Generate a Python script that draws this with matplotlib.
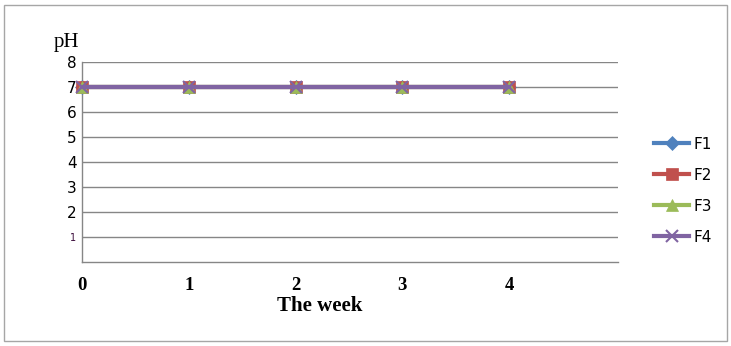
import matplotlib.pyplot as plt
from matplotlib.patches import Rectangle

weeks = [0, 1, 2, 3, 4]
series_names = ["F1", "F2", "F3", "F4"]
ph_values = {
    "F1": [7, 7, 7, 7, 7],
    "F2": [7, 7, 7, 7, 7],
    "F3": [7, 7, 7, 7, 7],
    "F4": [7, 7, 7, 7, 7],
}
y_ticks = [1, 2, 3, 4, 5, 6, 7, 8]
x_tick_labels = ["0", "1", "2", "3", "4"]

colors = {"F1": "#4F81BD", "F2": "#C0504D", "F3": "#9BBB59", "F4": "#8064A2"}
markers = {"F1": "D", "F2": "s", "F3": "^", "F4": "x"}
msize = {"F1": 7, "F2": 9, "F3": 9, "F4": 8}

fig = plt.figure(figsize=(7.31, 3.46), dpi=100)
ax = fig.add_axes([0.1122, 0.2428, 0.7332, 0.578])

for name in series_names:
    ax.plot(weeks, ph_values[name], color=colors[name], lw=3,
            marker=markers[name], markersize=msize[name],
            markeredgewidth=1.5 if name == "F4" else 0.5,
            markeredgecolor=colors[name], label=name, clip_on=False, zorder=3)

ax.set_xlim(0, 5.02)
ax.set_ylim(0, 8)
ax.set_yticks(y_ticks)
ax.set_yticklabels([str(v) for v in y_ticks])
ax.yaxis.grid(True, color="#868686", lw=1)
ax.set_axisbelow(True)
ax.tick_params(axis="y", length=0, pad=4, labelsize=11)
for lab in ax.get_yticklabels():
    lab.set_family("DejaVu Sans")
    if lab.get_text() == "1":
        lab.set_fontsize(7)
        lab.set_color("#3a0a3a")

ax.set_xticks(weeks)
ax.set_xticklabels(x_tick_labels, fontfamily="Liberation Serif",
                   fontweight="bold", fontsize=13.5)
ax.tick_params(axis="x", length=0, pad=11)
ax.set_xlabel("The week", fontfamily="Liberation Serif", fontweight="bold",
              fontsize=15, labelpad=1)
ax.xaxis.set_label_coords(0.444, -0.17)

for side in ["top", "right"]:
    ax.spines[side].set_visible(False)
for side in ["left", "bottom"]:
    ax.spines[side].set_color("#868686")
    ax.spines[side].set_linewidth(1)

fig.text(0.073, 0.877, "pH", fontfamily="Liberation Serif", fontsize=15,
         ha="left", va="center")

leg = fig.legend(loc="upper left", bbox_to_anchor=(0.876, 0.645),
                 frameon=False, handlelength=2.3, handletextpad=0.25,
                 labelspacing=1.05, prop={"family": "DejaVu Sans", "size": 11})

fig.patches.append(Rectangle((0.006, 0.014), 0.988, 0.972,
                             transform=fig.transFigure, fill=False,
                             edgecolor="#a6a6a6", lw=1))

fig.savefig("out.png", dpi=100)
